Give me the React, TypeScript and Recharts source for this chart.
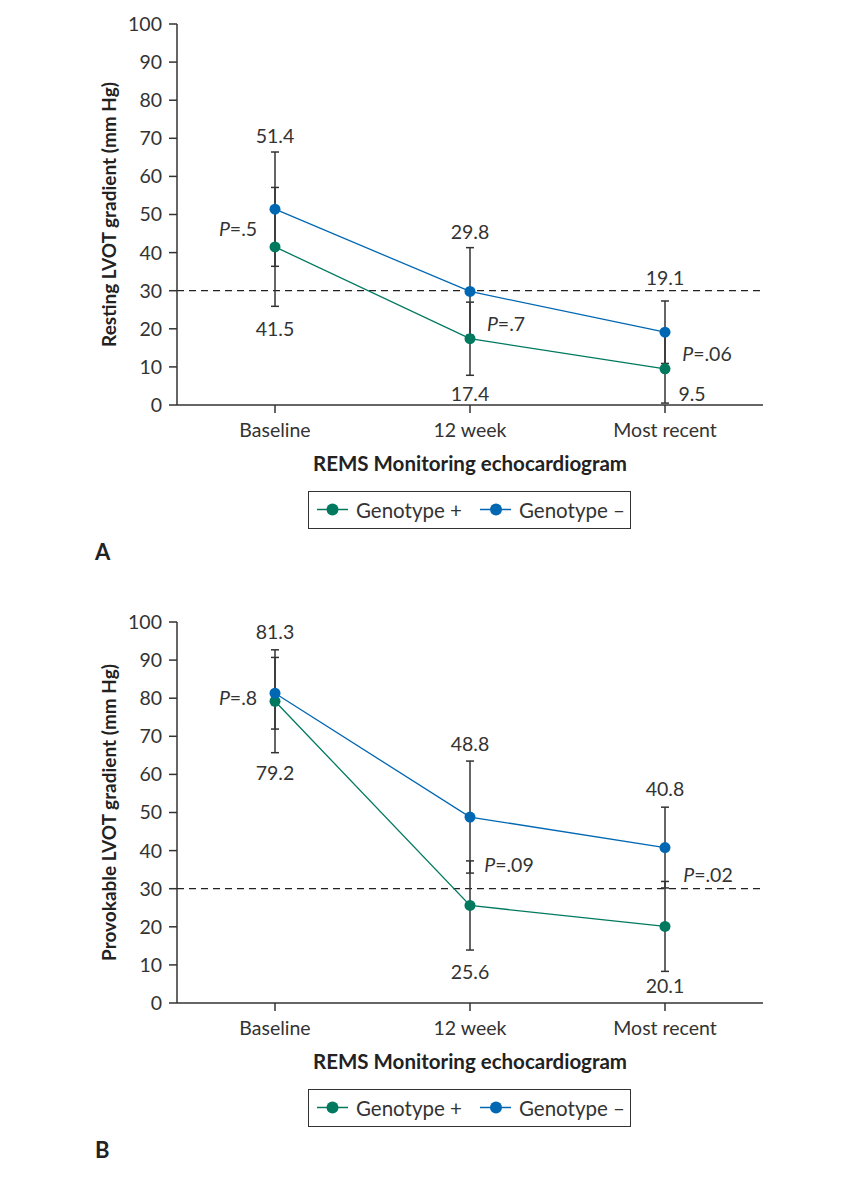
import { LineChart, Line, XAxis, YAxis, ErrorBar, ReferenceLine, ReferenceDot } from 'recharts'

// categories and values
const CATEGORIES = ['Baseline', '12 week', 'Most recent']
const Y_TICKS = [0, 10, 20, 30, 40, 50, 60, 70, 80, 90, 100]
const THRESHOLD = 30

const REST_POS = [41.5, 17.4, 9.5]
const REST_POS_ERR = [15.6, 9.6, 9.0]
const REST_NEG = [51.4, 29.8, 19.1]
const REST_NEG_ERR = [15.0, 11.5, 8.2]
const REST_P = ['.5', '.7', '.06']

const PROV_POS = [79.2, 25.6, 20.1]
const PROV_POS_ERR = [13.5, 11.7, 11.8]
const PROV_NEG = [81.3, 48.8, 40.8]
const PROV_NEG_ERR = [9.4, 14.7, 10.6]
const PROV_P = ['.8', '.09', '.02']

const FONT = 'Lato, "Open Sans", sans-serif'
const GREEN = '#00795f'
const BLUE = '#0067b2'
const INK = '#333333'

type Offset = { dx: number; dy: number }

// label placement (pixels) relative to the whisker ends / point midpoints
const REST_LAYOUT = {
  neg: [{ dx: 0, dy: -17 }, { dx: 0, dy: -16 }, { dx: 0, dy: -23 }],
  pos: [{ dx: 0, dy: 22 }, { dx: 0, dy: 18 }, { dx: 27, dy: -10 }],
  p: [{ dx: -37, dy: 0 }, { dx: 36, dy: 8 }, { dx: 42, dy: 2 }],
}
const PROV_LAYOUT = {
  neg: [{ dx: 0, dy: -26 }, { dx: 0, dy: -18 }, { dx: 0, dy: -19 }],
  pos: [{ dx: 0, dy: 20 }, { dx: 0, dy: 21 }, { dx: 0, dy: 14 }],
  p: [{ dx: -37, dy: 0 }, { dx: 39, dy: 3 }, { dx: 43, dy: -13 }],
}

function buildRows(pos: number[], posErr: number[], neg: number[], negErr: number[]) {
  return CATEGORIES.map((name, i) => ({
    name,
    pos: pos[i],
    posErr: posErr[i],
    neg: neg[i],
    negErr: negErr[i],
  }))
}

const textShape = (text: string, off: Offset) => (props: any) => (
  <text
    x={props.cx + off.dx}
    y={props.cy + off.dy}
    textAnchor="middle"
    dominantBaseline="central"
    fontFamily={FONT}
    fontSize={19.5}
    fill={INK}
  >
    {text}
  </text>
)

const pShape = (p: string, off: Offset) => (props: any) => (
  <text
    x={props.cx + off.dx}
    y={props.cy + off.dy}
    textAnchor="middle"
    dominantBaseline="central"
    fontFamily={FONT}
    fontSize={19.5}
    fill={INK}
  >
    <tspan fontStyle="italic">P</tspan>
    <tspan>={p}</tspan>
  </text>
)

interface PanelProps {
  pos: number[]
  posErr: number[]
  neg: number[]
  negErr: number[]
  pVals: string[]
  layout: { neg: Offset[]; pos: Offset[]; p: Offset[] }
  yLabel: string
}

function Panel({ pos, posErr, neg, negErr, pVals, layout, yLabel }: PanelProps) {
  const rows = buildRows(pos, posErr, neg, negErr)
  return (
    <LineChart width={860} height={480} data={rows} margin={{ top: 24, right: 97, left: 0, bottom: 0 }}>
      <XAxis
        dataKey="name"
        height={75}
        padding={{ left: 98, right: 98 }}
        tickSize={8}
        tickMargin={10}
        axisLine={{ stroke: INK, strokeWidth: 1.5 }}
        tickLine={{ stroke: INK, strokeWidth: 1.5 }}
        tick={{ fontSize: 19.5, fill: INK, fontFamily: FONT }}
        label={(p: any) => (
          <text
            x={p.viewBox.x + p.viewBox.width / 2}
            y={p.viewBox.y + 58}
            textAnchor="middle"
            dominantBaseline="central"
            fontFamily={FONT}
            fontWeight={700}
            fontSize={20.5}
            fill="#222"
          >
            REMS Monitoring echocardiogram
          </text>
        )}
      />
      <YAxis
        type="number"
        domain={[0, 100]}
        ticks={Y_TICKS}
        interval={0}
        width={177}
        tickSize={8}
        tickMargin={7}
        axisLine={{ stroke: INK, strokeWidth: 1.5 }}
        tickLine={{ stroke: INK, strokeWidth: 1.5 }}
        tick={{ fontSize: 19.5, fill: INK, fontFamily: FONT }}
        label={(p: any) => {
          const cy = p.viewBox.y + p.viewBox.height / 2
          return (
            <text
              x={108}
              y={cy}
              transform={`rotate(-90 108 ${cy})`}
              textAnchor="middle"
              dominantBaseline="central"
              fontFamily={FONT}
              fontWeight={700}
              fontSize={19}
              fill="#222"
            >
              {yLabel}
            </text>
          )
        }}
      />
      <ReferenceLine y={THRESHOLD} stroke="#222" strokeWidth={1.3} strokeDasharray="7 5" />
      <Line
        type="linear"
        dataKey="pos"
        stroke={GREEN}
        strokeWidth={1.3}
        dot={{ r: 5.5, fill: GREEN, stroke: GREEN, strokeWidth: 0 }}
        activeDot={false}
        isAnimationActive={false}
      >
        <ErrorBar dataKey="posErr" width={4} stroke={INK} strokeWidth={1.5} direction="y" />
      </Line>
      <Line
        type="linear"
        dataKey="neg"
        stroke={BLUE}
        strokeWidth={1.3}
        dot={{ r: 5.5, fill: BLUE, stroke: BLUE, strokeWidth: 0 }}
        activeDot={false}
        isAnimationActive={false}
      >
        <ErrorBar dataKey="negErr" width={4} stroke={INK} strokeWidth={1.5} direction="y" />
      </Line>
      {CATEGORIES.map((c, i) => (
        <ReferenceDot
          key={`n${i}`}
          x={c}
          y={neg[i] + negErr[i]}
          r={0}
          ifOverflow="visible"
          shape={textShape(neg[i].toFixed(1), layout.neg[i])}
        />
      ))}
      {CATEGORIES.map((c, i) => (
        <ReferenceDot
          key={`p${i}`}
          x={c}
          y={Math.max(pos[i] - posErr[i], 0)}
          r={0}
          ifOverflow="visible"
          shape={textShape(pos[i].toFixed(1), layout.pos[i])}
        />
      ))}
      {CATEGORIES.map((c, i) => (
        <ReferenceDot
          key={`pv${i}`}
          x={c}
          y={(pos[i] + neg[i]) / 2}
          r={0}
          ifOverflow="visible"
          shape={pShape(pVals[i], layout.p[i])}
        />
      ))}
    </LineChart>
  )
}

function LegendBox({ top }: { top: number }) {
  return (
    <div
      style={{
        position: 'absolute',
        left: 308,
        top,
        width: 323,
        height: 38,
        boxSizing: 'border-box',
        border: `1.5px solid ${INK}`,
      }}
    >
      <svg width={320} height={35} style={{ display: 'block' }}>
        <line x1={8} x2={39} y1={17.5} y2={17.5} stroke={GREEN} strokeWidth={1.5} />
        <circle cx={23.5} cy={17.5} r={6} fill={GREEN} />
        <text x={47} y={17.5} dominantBaseline="central" fontFamily={FONT} fontSize={20.5} fill={INK}>
          Genotype +
        </text>
        <line x1={171} x2={202} y1={17.5} y2={17.5} stroke={BLUE} strokeWidth={1.5} />
        <circle cx={187} cy={17.5} r={6} fill={BLUE} />
        <text x={210} y={17.5} dominantBaseline="central" fontFamily={FONT} fontSize={20.5} fill={INK}>
          Genotype –
        </text>
      </svg>
    </div>
  )
}

function PanelLetter({ text, top }: { text: string; top: number }) {
  return (
    <div
      style={{
        position: 'absolute',
        left: 95,
        top,
        fontFamily: FONT,
        fontWeight: 700,
        fontSize: 22,
        lineHeight: '24px',
        color: '#222',
      }}
    >
      {text}
    </div>
  )
}

export default function App() {
  return (
    <div style={{ position: 'absolute', left: 0, top: 0, width: 860, height: 1177, background: '#fff' }}>
      <div style={{ position: 'absolute', left: 0, top: 0 }}>
        <Panel
          pos={REST_POS}
          posErr={REST_POS_ERR}
          neg={REST_NEG}
          negErr={REST_NEG_ERR}
          pVals={REST_P}
          layout={REST_LAYOUT}
          yLabel="Resting LVOT gradient (mm Hg)"
        />
      </div>
      <LegendBox top={491} />
      <PanelLetter text="A" top={540} />
      <div style={{ position: 'absolute', left: 0, top: 598 }}>
        <Panel
          pos={PROV_POS}
          posErr={PROV_POS_ERR}
          neg={PROV_NEG}
          negErr={PROV_NEG_ERR}
          pVals={PROV_P}
          layout={PROV_LAYOUT}
          yLabel="Provokable LVOT gradient (mm Hg)"
        />
      </div>
      <LegendBox top={1089} />
      <PanelLetter text="B" top={1138} />
    </div>
  )
}
